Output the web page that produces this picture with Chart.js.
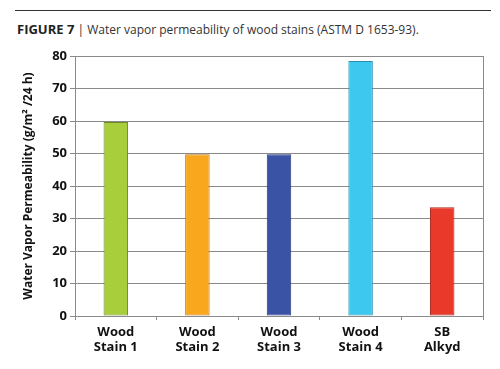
<!DOCTYPE html>
<html>
<head>
<meta charset="utf-8">
<script src="https://cdn.jsdelivr.net/npm/chart.js@4"></script>
<style>
  html, body { margin: 0; padding: 0; background: #fff; }
  #wrap { position: relative; width: 500px; height: 369px; }
  #rule { position: absolute; left: 15px; top: 10px; width: 476px; height: 0; border-top: 1px solid #333; }
  #title { position: absolute; left: 17px; top: 20px; font-family: "Open Sans", sans-serif; font-size: 12px; color: #333; white-space: nowrap; }
  #title b { font-family: "Liberation Sans Narrow", "Open Sans", sans-serif; font-size: 13px; font-weight: bold; color: #222; }
  canvas { position: absolute; left: 0; top: 0; }
</style>
</head>
<body>
<div id="wrap">
  <div id="rule"></div>
  <div id="title"><b>FIGURE 7</b> | Water vapor permeability of wood stains (ASTM D 1653-93).</div>
  <canvas id="chart" width="500" height="369"></canvas>
</div>
<script>
document.addEventListener("DOMContentLoaded", () => {
  // Chart data
  const categories = [["Wood", "Stain 1"], ["Wood", "Stain 2"], ["Wood", "Stain 3"], ["Wood", "Stain 4"], ["SB", "Alkyd"]];
  const permeability = [59.7, 49.8, 49.8, 78.5, 33.5];
  const barColors = ["#a8cf3b", "#f9a71c", "#3a53a4", "#3dc8f0", "#e8392b"];
  const borderColors = ["#6f8a25", "#b9761a", "#26367a", "#2a8fae", "#a8281e"];
  const yTicks = { min: 0, max: 80, step: 10 };

  const ctx = document.getElementById("chart").getContext("2d");
  const labelFont = { family: "Open Sans", size: 13, weight: "bold" };

  new Chart(ctx, {
    type: "bar",
    data: {
      labels: categories,
      datasets: [
        {
          data: permeability,
          backgroundColor: barColors,
          borderColor: borderColors,
          borderWidth: 1,
          borderSkipped: false,
          barPercentage: 0.3,
          categoryPercentage: 1,
        },
      ],
    },
    options: {
      responsive: false,
      animation: false,
      layout: { padding: { top: 56, right: 17, bottom: 7, left: 19 } },
      plugins: {
        legend: { display: false },
        tooltip: { enabled: false },
      },
      scales: {
        x: {
          grid: { display: true, drawOnChartArea: false, drawTicks: true, tickLength: 4, color: "#8a8a8a", offset: true },
          border: { color: "#8a8a8a" },
          ticks: {
            color: "#111",
            font: labelFont,
            padding: 4,
            maxRotation: 0,
          },
          afterFit: (s) => { s.height = 46; },
        },
        y: {
          min: yTicks.min,
          max: yTicks.max,
          ticks: {
            stepSize: yTicks.step,
            color: "#111",
            font: labelFont,
            padding: 3,
          },
          grid: { color: "#8a8a8a", tickLength: 5 },
          border: { color: "#8a8a8a" },
          title: {
            display: true,
            text: "Water Vapor Permeability (g/m² /24 h)",
            color: "#111",
            font: { family: "Open Sans", size: 12, weight: "bold" },
            padding: { top: 2, bottom: 0 },
          },
          afterFit: (s) => { s.width = 56; },
        },
        yRight: {
          position: "right",
          min: yTicks.min,
          max: yTicks.max,
          ticks: { display: false },
          grid: { drawOnChartArea: false, drawTicks: false },
          border: { color: "#8a8a8a" },
          afterFit: (s) => { s.width = 0; },
        },
      },
    },
  });
});
</script>
</body>
</html>
